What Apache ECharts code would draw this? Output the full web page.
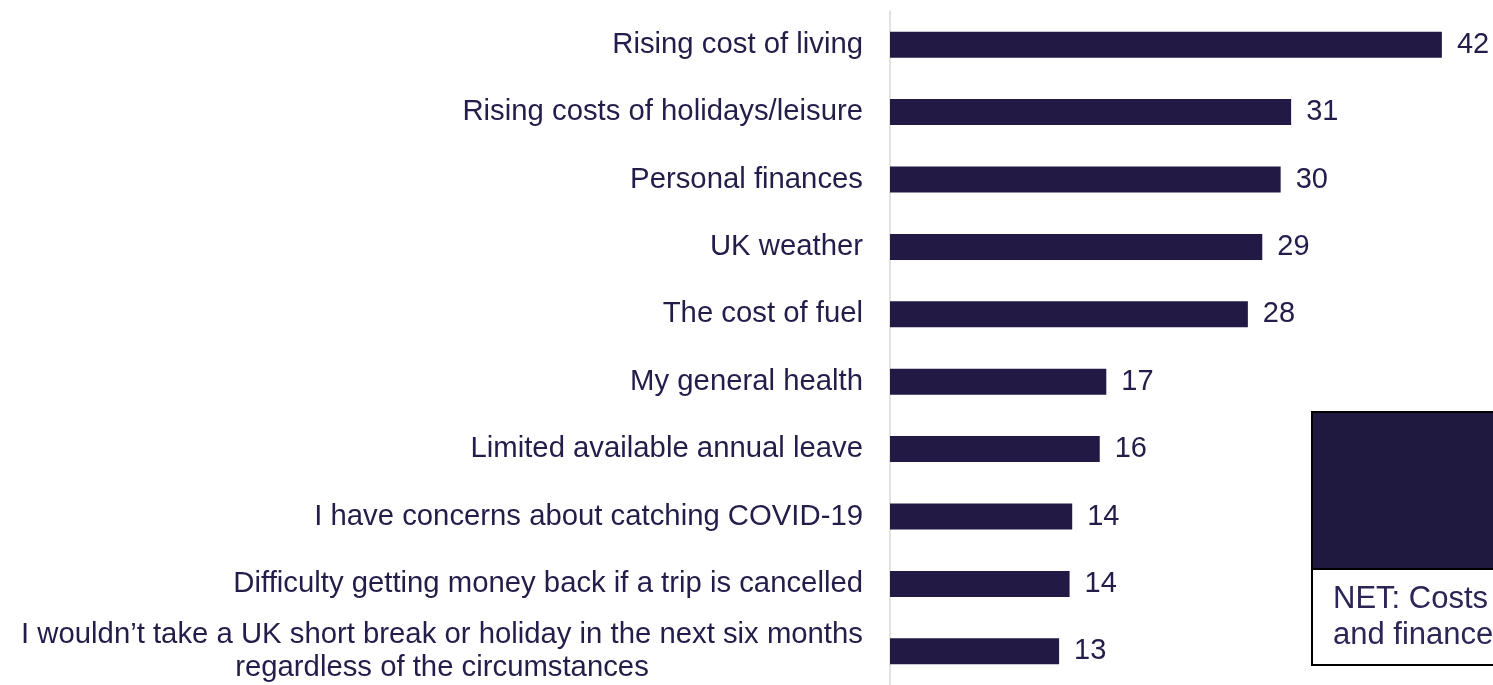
<!DOCTYPE html>
<html>
<head>
<meta charset="utf-8">
<title>UK short break barriers</title>
<script src="https://cdn.jsdelivr.net/npm/echarts@6/dist/echarts.min.js"></script>
<style>
    html, body { margin: 0; padding: 0; background: #fff; }
    #chartDiv { width: 1493px; height: 685px; }
</style>
</head>
<body>
<div id="chartDiv"></div>
<script>
    // categories, top to bottom
    var reasons = [
        'Rising cost of living',
        'Rising costs of holidays/leisure',
        'Personal finances',
        'UK weather',
        'The cost of fuel',
        'My general health',
        'Limited available annual leave',
        'I have concerns about catching COVID-19',
        'Difficulty getting money back if a trip is cancelled',
        'I wouldn\u2019t take a UK short break or holiday in the next six months\nregardless of the circumstances'
    ];
    // bar lengths (%)
    var shares = [42.1, 30.6, 29.8, 28.4, 27.3, 16.5, 16.0, 13.9, 13.7, 12.9];
    // printed labels
    var shareLabels = [42, 31, 30, 29, 28, 17, 16, 14, 14, 13];

    var navy = '#221a45';
    var textColor = '#231d4a';
    var labelFont = '"Liberation Sans", Arial, Helvetica, sans-serif';
    var fs = 29.3;

    // width of the longest line, so wrapped labels can be centred on it
    var ctx = document.createElement('canvas').getContext('2d');
    ctx.font = fs + 'px ' + labelFont;
    var wrapWidth = 0;
    reasons.forEach(function (r) {
        r.split('\n').forEach(function (l) {
            wrapWidth = Math.max(wrapWidth, Math.ceil(ctx.measureText(l).width));
        });
    });

    var chart = echarts.init(document.getElementById('chartDiv'));
    chart.setOption({
        animation: false,
        grid: { left: 890, right: 0, top: 11, bottom: 0 },
        xAxis: {
            type: 'value',
            min: 0,
            max: 46,
            show: false
        },
        yAxis: {
            type: 'category',
            inverse: true,
            data: reasons,
            axisTick: { show: false },
            axisLine: { lineStyle: { color: '#d9d9d9', width: 1.5 } },
            axisLabel: {
                margin: 27,
                fontSize: fs,
                lineHeight: 33,
                fontFamily: labelFont,
                color: textColor,
                formatter: function (v) {
                    if (v.indexOf('\n') < 0) return v;
                    return v.split('\n').map(function (l) {
                        return '{c|' + l + '}';
                    }).join('\n');
                },
                rich: {
                    c: {
                        width: wrapWidth,
                        align: 'center',
                        fontSize: fs,
                        lineHeight: 33,
                        fontFamily: labelFont,
                        color: textColor
                    }
                }
            }
        },
        series: [{
            type: 'bar',
            data: shares,
            barWidth: 26,
            itemStyle: { color: navy },
            label: {
                show: true,
                position: 'right',
                distance: 15,
                fontSize: 29,
                fontFamily: labelFont,
                color: textColor,
                formatter: function (p) {
                    return shareLabels[p.dataIndex];
                }
            }
        }],
        graphic: [
            {
                type: 'rect',
                shape: { x: 1312, y: 412, width: 200, height: 157 },
                style: { fill: '#1f1940', stroke: '#000', lineWidth: 2 }
            },
            {
                type: 'rect',
                shape: { x: 1312, y: 569, width: 200, height: 96 },
                style: { fill: '#fff', stroke: '#000', lineWidth: 2 }
            },
            {
                type: 'text',
                x: 1333,
                y: 581,
                style: {
                    text: 'NET: Costs\nand finances',
                    fontSize: 31,
                    lineHeight: 36,
                    fontFamily: labelFont,
                    fill: '#2b2656',
                    verticalAlign: 'top'
                }
            }
        ]
    });
</script>
</body>
</html>
